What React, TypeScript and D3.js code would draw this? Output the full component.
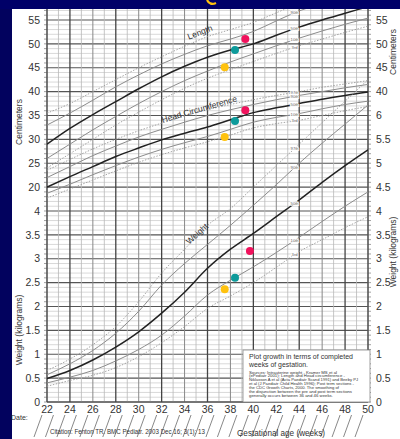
import React from 'react';
import * as d3 from 'd3';

// gestational weeks at which the percentile curves were read
const weeks = [22, 24, 26, 28, 30, 32, 34, 36, 38, 40, 42, 44, 46, 48, 50];

// Length (cm)
const len97 = [35.5, 37.5, 40, 42.5, 45, 47.3, 49.5, 51.5, 53, 54.5, 56.5, 58.5, 60, 61.5, 63];
const len90 = [33, 35.5, 38.2, 41, 43.5, 45.8, 47.8, 49.6, 51, 52.6, 54.8, 56.9, 58.5, 60, 61.4];
const len50 = [29, 32.3, 35.2, 37.9, 40.6, 43.1, 45.3, 47.2, 48.7, 50.0, 51.8, 53.5, 55.0, 56.4, 57.8];
const len10 = [26, 29, 32, 34.8, 37.5, 40.0, 42.3, 44.3, 46.2, 47.9, 49.6, 51.2, 52.7, 54.1, 55.4];
const len3 = [24, 27, 30, 33, 35.7, 38.3, 40.7, 42.8, 44.6, 46.3, 48, 49.6, 51, 52.4, 53.7];

// Head circumference (cm)
const hc97 = [23.5, 25.8, 28, 30, 31.8, 33.4, 34.9, 36.2, 37.3, 38.3, 39.2, 40.0, 40.9, 41.6, 42.3];
const hc90 = [22, 24.3, 26.6, 28.6, 30.5, 32.1, 33.6, 35.0, 36.2, 37.3, 38.3, 39.2, 40.0, 40.8, 41.5];
const hc50 = [20, 22.2, 24.3, 26.4, 28.2, 29.9, 31.3, 32.6, 34.1, 35.6, 36.6, 37.5, 38.4, 39.2, 39.9];
const hc10 = [18.7, 20.6, 22.6, 24.5, 26.3, 27.9, 29.3, 30.6, 32.1, 33.6, 34.6, 35.4, 36.4, 37.3, 38.0];
const hc3 = [17.7, 19.6, 21.5, 23.4, 25.2, 26.8, 28.2, 29.5, 30.9, 32.4, 33.3, 34.0, 35.0, 36.0, 36.9];

// Weight (kg)
const wt97 = [0.66, 0.9, 1.2, 1.58, 2.1, 2.7, 3.2, 3.7, 4.05, 4.5, 4.95, 5.4, 5.85, 6.3, 6.75];
const wt90 = [0.57, 0.8, 1.08, 1.44, 1.9, 2.45, 2.9, 3.3, 3.7, 4.12, 4.55, 5.0, 5.42, 5.82, 6.22];
const wt50 = [0.49, 0.66, 0.88, 1.15, 1.47, 1.86, 2.3, 2.8, 3.2, 3.53, 3.88, 4.23, 4.6, 4.95, 5.28];
const wt10 = [0.40, 0.52, 0.66, 0.86, 1.1, 1.40, 1.8, 2.24, 2.55, 2.83, 3.13, 3.45, 3.78, 4.1, 4.4];
const wt3 = [0.33, 0.45, 0.56, 0.72, 0.95, 1.24, 1.58, 1.96, 2.22, 2.5, 2.82, 3.15, 3.4, 3.65, 3.88];

// plotted baby: [week, value]
const babyLength = [[37.5, 45.1], [38.4, 48.7], [39.3, 51.0]];
const babyHead = [[37.5, 30.5], [38.4, 33.85], [39.3, 36.1]];
const babyWeight = [[37.5, 2.36], [38.4, 2.6], [39.7, 3.16]];
const dotColors = ['#ffc20e', '#0e9b9b', '#f0125c'];

const pctLabels = ['97th', '90th', '50th', '10th', '3rd'];
const leftKgTicks = [0, 0.5, 1, 1.5, 2, 2.5, 3, 3.5, 4];
const leftCmTicks = [20, 25, 30, 35, 40, 45, 50, 55];
const rightKgTicks = [0, 0.5, 1, 1.5, 2, 2.5, 3, 3.5, 4, 4.5, 5, 5.5, 6];
const rightCmTicks = [40, 45, 50, 55];
const weekTicks = d3.range(22, 51, 2);

const sourceLines = [
  'Sources: Intrauterine weight - Kramer MS et al',
  '(ePediatr 2001); Length and Head circumference -',
  'Niklasson A et al (Acta Paediatr Scand 1991) and Beeby PJ',
  'et al (J Paediatr Child Health 1996); Post term sections -',
  'the CDC Growth Charts, 2000.  The smoothing of',
  'the disjunction between the pre and post term sections',
  'generally occurs between 36 and 46 weeks.',
];
const sourceWidths = [88, 96, 109, 105, 90, 103, 84];

const W = 400;
const H = 439;
const left = 47;
const right = 368;
const top = 9;
const bottom = 402;

const x = d3.scaleLinear().domain([22, 50]).range([left, right]);
const yKg = d3.scaleLinear().domain([0, 8.23]).range([bottom, top]);
// 20 cm sits on the 4.5 kg line, 5 cm per 0.5 kg
const yCm = d3.scaleLinear().domain([-25, 57.3]).range([bottom, top]);

const font = 'Liberation Sans, Arial, sans-serif';

function curve(vals: number[], y: (v: number) => number) {
  const line = d3.line<number>()
    .x((_, i) => x(weeks[i]))
    .y(d => y(d))
    .curve(d3.curveMonotoneX);
  return line(vals) || '';
}

const pctStyle = [
  { stroke: '#9a9a9a', width: 0.9, dash: '1.5,1.5' },
  { stroke: '#8c8c8c', width: 1, dash: '' },
  { stroke: '#222', width: 1.5, dash: '' },
  { stroke: '#8c8c8c', width: 1, dash: '' },
  { stroke: '#9a9a9a', width: 0.9, dash: '1.5,1.5' },
];

function Group({ sets, y }: { sets: number[][]; y: (v: number) => number }) {
  const lw = 43.6;
  const interp = (vals: number[]) => {
    const i = d3.bisectLeft(weeks, lw);
    const t = (lw - weeks[i - 1]) / (weeks[i] - weeks[i - 1]);
    return vals[i - 1] + t * (vals[i] - vals[i - 1]);
  };
  return (
    <g>
      {sets.map((s, i) => (
        <path key={i} d={curve(s, y)} fill="none" stroke={pctStyle[i].stroke}
          strokeWidth={pctStyle[i].width} strokeDasharray={pctStyle[i].dash} />
      ))}
      {sets.map((s, i) => (
        <text key={'l' + i} x={x(lw)} y={y(interp(s)) + 1.5} fontSize={4.2} fill="#666"
          fontFamily={font} textAnchor="middle" stroke="#fff" strokeWidth={1.6}
          paintOrder="stroke">{pctLabels[i]}</text>
      ))}
    </g>
  );
}

export default function App() {
  const minor = d3.range(0, 8.25, 0.1);
  const wk = d3.range(22, 51, 1);
  return (
    <div style={{ position: 'absolute', left: 0, top: 0 }}>
      <svg width={W} height={H} style={{ display: 'block' }}>
        <defs>
          <clipPath id="plot">
            <rect x={left} y={top} width={right - left} height={bottom - top} />
          </clipPath>
        </defs>
        <rect width={W} height={H} fill="#fff" />
        <rect x={0} y={0} width={12} height={H} fill="#02025e" />

        {/* grid */}
        <g>
          {minor.map((v, i) => {
            const major = i % 5 === 0;
            return (
              <line key={'h' + i} x1={left} x2={right} y1={yKg(v)} y2={yKg(v)}
                stroke={major ? '#555' : '#c8c8c8'} strokeWidth={major ? 1.1 : 0.7} />
            );
          })}
          {minor.map((v, i) => (
            <g key={'t' + i}>
              <line x1={left - 3} x2={left} y1={yKg(v)} y2={yKg(v)} stroke="#777" strokeWidth={0.7} />
              <line x1={right} x2={right + 3} y1={yKg(v)} y2={yKg(v)} stroke="#777" strokeWidth={0.7} />
            </g>
          ))}
          {wk.map(w => {
            const heavy = w % 4 === 0;
            const mid = w % 2 === 0 && !heavy;
            return (
              <line key={'v' + w} x1={x(w)} x2={x(w)} y1={top} y2={bottom}
                stroke={heavy ? '#444' : mid ? '#888' : '#b8b8b8'}
                strokeWidth={heavy ? 1.3 : mid ? 1 : 0.8} />
            );
          })}
          <line x1={left} x2={left} y1={top} y2={bottom} stroke="#444" strokeWidth={1.2} />
          <line x1={right} x2={right} y1={top} y2={bottom} stroke="#444" strokeWidth={1.2} />
          <line x1={left} x2={right} y1={bottom} y2={bottom} stroke="#444" strokeWidth={1.2} />
        </g>

        <g clipPath="url(#plot)">
          <Group sets={[len97, len90, len50, len10, len3]} y={yCm} />
          <Group sets={[hc97, hc90, hc50, hc10, hc3]} y={yCm} />
          <Group sets={[wt97, wt90, wt50, wt10, wt3]} y={yKg} />
        </g>

        {/* curve names */}
        <g fontFamily={font} fill="#333" fontSize={8.5}>
          <text transform="translate(201,35) rotate(-21)" textAnchor="middle">Length</text>
          <text transform="translate(200,112) rotate(-16)" textAnchor="middle">Head Circumference</text>
          <text transform="translate(199,236) rotate(-42)" textAnchor="middle">Weight</text>
        </g>

        {/* baby's measurements */}
        {[babyLength.map(d => [d[0], yCm(d[1])]), babyHead.map(d => [d[0], yCm(d[1])]),
          babyWeight.map(d => [d[0], yKg(d[1])])].map((set, j) =>
          set.map((d, i) => (
            <circle key={j + '-' + i} cx={x(d[0])} cy={d[1]} r={4} fill={dotColors[i]} />
          )))}

        {/* axis labels */}
        <g fontFamily={font} fontSize={10.5} fill="#333">
          {leftKgTicks.map(v => (
            <text key={'lk' + v} x={40} y={yKg(v) + 3.7} textAnchor="end">{v}</text>
          ))}
          {leftCmTicks.map(v => (
            <text key={'lc' + v} x={40} y={yCm(v) + 3.7} textAnchor="end">{v}</text>
          ))}
          {rightKgTicks.map(v => (
            <text key={'rk' + v} x={376} y={yKg(v) + 3.7}>{v}</text>
          ))}
          {rightCmTicks.map(v => (
            <text key={'rc' + v} x={376} y={yCm(v) + 3.7}>{v}</text>
          ))}
          {weekTicks.map(w => (
            <text key={'w' + w} x={x(w)} y={413} textAnchor="middle">{w}</text>
          ))}
        </g>
        <g fontFamily={font} fontSize={8.5} fill="#333" textAnchor="middle">
          <text transform="translate(22,122) rotate(-90)">Centimeters</text>
          <text transform="translate(22,330) rotate(-90)">Weight (kilograms)</text>
          <text transform="translate(396,52) rotate(-90)">Centimeters</text>
          <text transform="translate(396,252) rotate(-90)">Weight (kilograms)</text>
        </g>

        {/* date slashes */}
        <g stroke="#555" strokeWidth={0.7}>
          {wk.map(w => (
            <line key={'s' + w} x1={x(w) - 5} y1={415} x2={x(w) - 13} y2={437} />
          ))}
        </g>
        <text x={11} y={420} fontFamily={font} fontSize={7} fill="#333">Date:</text>
        <text x={50} y={434} fontFamily={font} fontSize={6.8} fill="#333"
          textLength={155} lengthAdjust="spacingAndGlyphs">Citation: Fenton TR.  BMC Pediatr. 2003 Dec 16; 3(1): 13</text>
        <text x={237} y={436} fontFamily={font} fontSize={9.5} fill="#333"
          textLength={88} lengthAdjust="spacingAndGlyphs">Gestational age (weeks)</text>

        {/* note box */}
        <rect x={243} y={350} width={127} height={52} fill="#fff" stroke="#888" strokeWidth={0.8} />
        <g fontFamily={font} fill="#333">
          <text x={249} y={359} fontSize={8} textLength={104} lengthAdjust="spacingAndGlyphs">Plot growth in terms of completed</text>
          <text x={249} y={367} fontSize={8} textLength={59} lengthAdjust="spacingAndGlyphs">weeks of gestation.</text>
          {sourceLines.map((s, i) => (
            <text key={'src' + i} x={249} y={373.5 + i * 3.9} fontSize={3.6}
              textLength={sourceWidths[i]} lengthAdjust="spacingAndGlyphs">{s}</text>
          ))}
        </g>

        {/* title band */}
        <rect x={0} y={0} width={W} height={9} fill="#000068" />
        <path d="M207,0 Q210,6 216,3" fill="none" stroke="#ffc20e" strokeWidth={2.2} />
      </svg>
    </div>
  );
}
